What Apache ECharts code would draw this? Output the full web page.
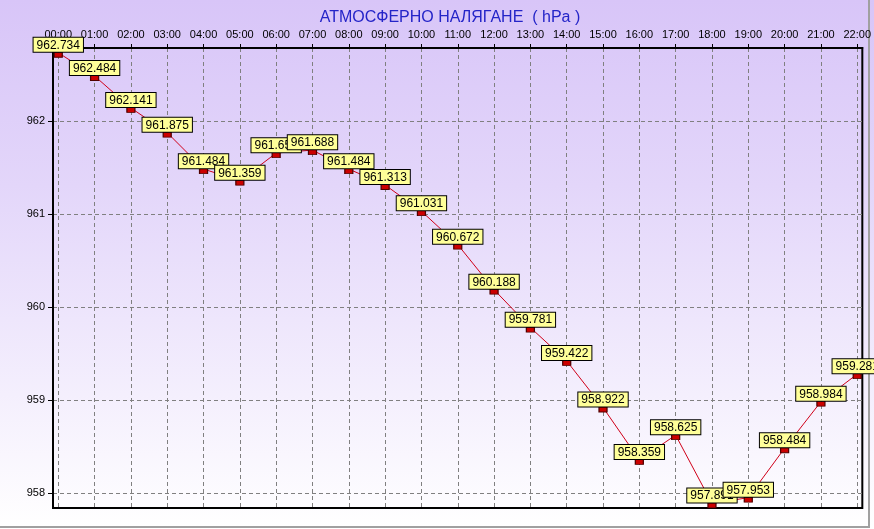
<!DOCTYPE html>
<html><head><meta charset="utf-8">
<script src="https://cdn.jsdelivr.net/npm/echarts@6/dist/echarts.min.js"></script>
<style>html,body{margin:0;padding:0;}#c{width:874px;height:529px;}</style>
</head><body><div id="c"></div>
<script>
const titleText = 'АТМОСФЕРНО НАЛЯГАНЕ  ( hPa )';
const categories = ['00:00','01:00','02:00','03:00','04:00','05:00','06:00','07:00','08:00','09:00','10:00','11:00','12:00','13:00','14:00','15:00','16:00','17:00','18:00','19:00','20:00','21:00','22:00'];
const pressure = [962.734,962.484,962.141,961.875,961.484,961.359,961.656,961.688,961.484,961.313,961.031,960.672,960.188,959.781,959.422,958.922,958.359,958.625,957.891,957.953,958.484,958.984,959.281];
const yTicks = [958,959,960,961,962];
const yMin = 957.842, yMax = 962.785;

const chart = echarts.init(document.getElementById('c'), null, {renderer:'canvas'});
const xIdx = categories.map((_, i) => i);
const font = 'Liberation Sans, Arial, sans-serif';
chart.setOption({
  animation: false,
  backgroundColor: {type:'linear', x:0, y:0, x2:0, y2:1, colorStops:[{offset:0,color:'#d8c5f8'},{offset:0.35,color:'#e3d6fa'},{offset:1,color:'#ffffff'}]},
  title: {text: titleText, left: 445, top: 5, textAlign: 'center',
    textStyle: {color:'#2424c8', fontSize:16, fontWeight:'normal', fontFamily: font}},
  grid: {left: 53, right: 9, top: 48, bottom: 21, show: true, borderColor:'#000', borderWidth: 2, backgroundColor:'transparent'},
  xAxis: {type:'value', position:'top', min:-0.145, max:22.14,
    axisLine:{show:true, onZero:false, lineStyle:{color:'#000', width:2}},
    axisTick:{show:true, length:4, customValues: xIdx, lineStyle:{color:'#000'}},
    axisLabel:{customValues: xIdx, formatter: v => categories[Math.round(v)], color:'#000', fontSize:11, fontFamily: font, margin: 8},
    splitLine:{show:true, lineStyle:{color:'#808080', type:[4,3], width:1}}
  },
  yAxis: {type:'value', min:yMin, max:yMax,
    axisLine:{show:true, onZero:false, lineStyle:{color:'#000', width:2}},
    axisTick:{show:true, length:5, customValues: yTicks, lineStyle:{color:'#000'}},
    axisLabel:{customValues: yTicks, color:'#000', fontSize:11, fontFamily: font, margin: 8},
    splitLine:{show:true, lineStyle:{color:'#808080', type:[4,3], width:1}}
  },
  series: [{
    type:'line',
    data: pressure.map((v, i) => [i, v]),
    lineStyle:{color:'#d00018', width:1},
    symbol:'rect', symbolSize:[8,5], symbolOffset:[0,2],
    itemStyle:{color:'#cc0000', borderColor:'#500000', borderWidth:1},
    label:{show:true, position:'top', distance:0,
      formatter: p => p.value[1].toFixed(3),
      backgroundColor:'#ffff99', borderColor:'#000', borderWidth:1,
      padding:[1,3,0,3], color:'#000', fontSize:12, fontFamily: font, lineHeight:13},
    emphasis:{disabled:true}
  }],
  graphic: [
    {type:'line', shape:{x1:869, y1:0, x2:869, y2:528}, style:{stroke:'#a0a0a0', lineWidth:2}},
    {type:'line', shape:{x1:0, y1:527, x2:870, y2:527}, style:{stroke:'#a0a0a0', lineWidth:2}}
  ]
});
</script></body></html>
